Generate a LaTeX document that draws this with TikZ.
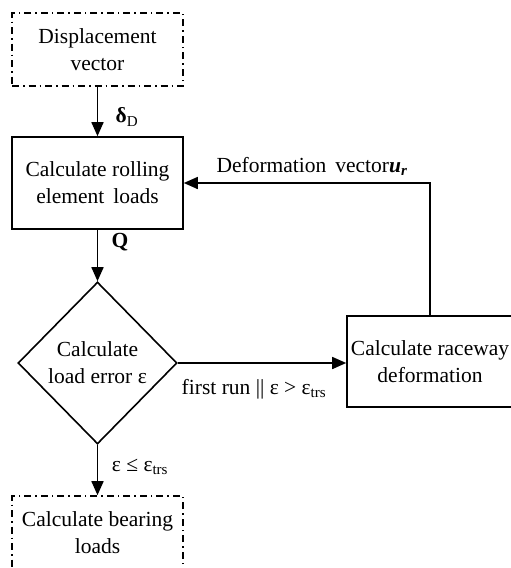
\documentclass[tikz,border=0pt]{standalone}
\usepackage{fontspec}
\setmainfont{Liberation Serif}
\usepackage{tikz}
\usetikzlibrary{arrows.meta,shapes.geometric}

\begin{document}
\begin{tikzpicture}[x=1pt, y=-1pt, line width=1.6pt,
    font=\fontsize{21.5}{27}\selectfont,
    box/.style={draw, rectangle, align=center, inner sep=0pt},
    ddbox/.style={box, dash pattern=on 7pt off 4pt on 1.5pt off 4pt},
    decide/.style={draw, diamond, align=center, inner sep=0pt},
    arr/.style={-{Triangle[length=14pt,width=12pt]}}]
  \useasboundingbox (0,0) rectangle (511,568);
  \clip (0,0) rectangle (511,568);
  \node[ddbox, minimum width=171pt, minimum height=73pt] (disp) at (97.5,49.5) {Displacement\\vector};
  \node[box, minimum width=171pt, minimum height=92pt] (roll) at (97.5,183) {Calculate rolling\\element\, loads};
  \node[decide, minimum width=159pt, minimum height=162pt] (err) at (97.5,363) {Calculate\\load error ε};
  \node[box, minimum width=166pt, minimum height=91pt] (race) at (430,361.5) {Calculate raceway\\deformation};
  \node[ddbox, minimum width=171pt, minimum height=73pt] (bear) at (97.5,532.5) {Calculate bearing\\loads};
  \node (delta) at (127,117) {\textbf{δ}\textsubscript{D}};
  \node (q) at (120,242) {\textbf{Q}};
  \node (defo) at (312,166) {Deformation\, vector\textbf{\textit{u\textsubscript{r}}}};
  \node (first) at (254,389) {first run || ε > ε\textsubscript{trs}};
  \node (conv) at (140,467) {ε ≤ ε\textsubscript{trs}};
  \draw[arr] (disp) -- (roll);
  \draw[arr] (roll) -- (err);
  \draw[arr] (err.east) -- (err.east -| race.west);
  \draw[arr] (race.north) |- (roll.east);
  \draw[arr] (err) -- (bear);
\end{tikzpicture}
\end{document}
